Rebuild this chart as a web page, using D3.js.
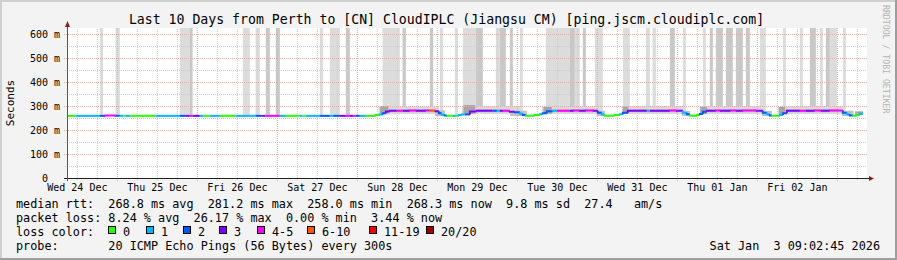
<!DOCTYPE html>
<html>
<head>
<meta charset="utf-8">
<script src="https://cdn.jsdelivr.net/npm/d3@7"></script>
<style>
  html, body { margin: 0; padding: 0; background: #f3f3f3; }
  svg { display: block; font-family: "DejaVu Sans Mono", monospace; }
  text { white-space: pre; }
</style>
</head>
<body>
<svg id="chart" width="897" height="260"></svg>
<script>
// graph window: last 10 days up to the render time
const windowStart = new Date(2025, 11, 24, 9, 2, 45);
const windowEnd = new Date(2026, 0, 3, 9, 2, 45);
const yMax = 625;

const yTicks = [0, 100, 200, 300, 400, 500, 600];
const yMinorTicks = [50, 150, 250, 350, 450, 550];

// median rtt, one step per entry: start time "DD HH:MM", ms, lost pings (of 20)
const medTimes = [
  "24 09:03","24 11:36","24 18:54","24 19:53","24 20:37","24 23:37","25 00:54","25 01:53","25 02:37","25 03:54",
  "25 11:37","25 18:54","25 20:42","25 21:54","25 22:43","26 00:54","26 01:53","26 03:54","26 06:54","26 11:37",
  "26 17:37","26 19:35","26 20:37","27 00:54","27 02:42","27 06:54","27 07:43","27 08:42","27 12:54","27 15:54",
  "27 16:53","27 18:54","27 20:42","27 21:54","27 22:53","27 23:42","28 00:54","28 02:42","28 05:42","28 06:54",
  "28 07:48","28 08:42","28 09:54","28 12:00","28 13:48","28 15:54","28 18:00","28 20:42","28 21:54","28 23:37",
  "29 00:36","29 01:30","29 02:24","29 03:00","29 04:48","29 05:42","29 06:36","29 07:30","29 08:24","29 09:54",
  "29 11:55","29 16:48","29 18:00","29 18:54","29 19:48","29 21:54","29 23:24","30 00:54","30 01:48","30 02:42",
  "30 05:24","30 06:54","30 07:48","30 09:00","30 10:48","30 12:00","30 15:54","30 17:06","30 18:54","30 20:42",
  "30 23:06","31 00:18","31 01:30","31 02:24","31 05:24","31 06:54","31 07:48","31 09:18","31 15:00","31 15:54",
  "31 21:54","01 00:00","01 01:48","01 03:00","01 03:54","01 06:00","01 06:54","01 07:48","01 09:00","01 11:42",
  "01 13:12","01 16:12","01 18:00","01 19:48","02 00:00","02 01:48","02 03:00","02 03:54","02 04:30","02 06:54",
  "02 07:48","02 09:00","02 12:54","02 14:42","02 17:24","02 19:30","02 21:54","03 01:48","03 03:00","03 03:54",
  "03 04:48","03 06:00","03 06:54"
];
const medLastTime = "03 07:48";
const medValues = [
  259,259,259,259,260,259,259,259,259,259,
  259,259,259,259,259,259,259,259,259,259,
  259,259,259,259,259,259,259,259,259,259,
  259,259,259,259,259,259,259,259,262,265,
  270,277,280,280,280,281,280,281,281,278,
  270,264,260,259,259,259,262,265,265,277,
  280,280,280,280,280,276,274,268,263,259,
  262,266,270,278,280,280,280,281,280,281,
  280,272,265,259,262,266,272,280,280,280,
  281,280,272,266,259,262,267,276,280,281,
  280,281,280,281,280,272,266,260,259,263,
  270,280,280,280,281,280,281,272,266,260,
  259,263,268
];
const medLoss = [
  0,1,2,3,4,2,1,0,1,0,
  1,2,3,4,3,1,0,1,0,1,
  2,3,4,1,0,1,0,1,2,1,
  2,3,4,3,4,2,1,0,0,1,
  2,3,3,4,3,4,3,4,7,3,
  2,1,2,0,1,0,1,1,2,3,
  3,2,1,3,4,3,2,1,2,0,
  0,1,2,2,1,4,3,4,3,4,
  3,2,1,0,0,1,2,3,1,3,
  4,3,1,2,0,0,2,2,3,4,
  3,4,3,4,3,2,1,2,0,1,
  2,3,4,3,4,3,4,2,1,2,
  0,0,1
];

// intervals where the slowest pings run off the top: [from, to, shade 1 light / 2 dark]
const spikes = [
  ["24 18:54","24 19:53",1],["24 23:37","25 00:54",1],["25 18:54","25 21:54",1],["25 21:54","25 22:43",2],
  ["26 13:48","26 15:54",1],["26 17:37","26 18:54",1],["26 20:42","26 21:54",2],["26 23:42","27 00:54",2],
  ["27 12:54","27 13:53",1],["27 15:54","27 18:54",1],["27 20:42","27 21:54",2],["28 07:43","28 12:54",1],
  ["28 13:43","28 14:42",2],["28 21:54","28 22:53",2],["29 00:54","29 01:53",1],["29 05:24","29 06:13",1],
  ["29 07:48","29 11:42",1],["29 11:42","29 13:48",2],["29 17:42","29 18:54",1],["29 18:54","29 20:42",2],
  ["29 21:54","29 22:48",2],["30 00:54","30 01:48",1],["30 08:42","30 15:54",1],["30 15:54","30 17:24",2],
  ["30 17:24","30 18:54",1],["30 19:48","30 20:42",2],["30 23:24","31 01:48",1],["31 07:48","31 09:54",1],
  ["31 14:42","31 15:54",1],["31 16:43","31 17:42",1],["31 21:54","31 23:24",2],["01 01:48","01 02:42",1],
  ["01 07:48","01 08:42",1],["01 09:54","01 10:48",2],["01 11:42","01 13:48",2],["01 14:42","01 16:48",2],
  ["01 17:42","01 19:48",2],["01 20:42","01 21:54",2],["02 00:54","02 02:42",1],["02 07:48","02 08:42",1],
  ["02 12:54","02 13:48",1],["02 15:54","02 17:42",2],["02 18:54","02 19:48",1],["02 20:42","02 21:54",2],
  ["02 21:54","03 00:00",1],["03 01:48","03 02:42",1]
];

// smoke around the median: [from, to, low ms, high ms, shade 1..3]
const smoke = [
  ["28 06:30","29 00:36",266,298,1],["29 07:30","30 01:00",266,300,1],["30 07:30","31 00:30",266,298,1],
  ["31 07:30","01 02:00",266,300,1],["01 06:54","02 02:00",266,300,1],["02 07:00","03 02:00",266,300,1],
  ["28 09:54","28 23:37",274,287,2],["29 11:55","29 21:54",274,287,2],["30 10:48","30 23:06",274,287,2],
  ["31 09:18","31 23:59",274,287,2],["01 09:00","01 23:59",274,287,2],["02 09:00","03 00:30",274,287,2],
  ["28 23:30","29 02:30",258,282,2],["29 22:00","30 03:00",258,280,2],["31 00:00","31 02:30",258,280,2],
  ["01 01:30","01 04:00",258,280,2],["02 01:30","02 04:30",258,280,2],["03 01:30","03 05:00",258,280,2],
  ["28 07:00","28 09:30",268,300,3],["29 08:00","29 11:30",268,304,3],["30 08:00","30 10:30",268,296,3],
  ["31 07:48","31 09:30",268,298,3],["01 07:00","01 09:00",266,296,3],["02 06:30","02 08:30",266,296,3],
  ["03 05:30","03 07:48",262,278,3]
];

const lossLabels = ["0", "1", "2", "3", "4-5", "6-10", "11-19", "20/20"];
const lossColors = ["#26ff00", "#00b8ff", "#0059ff", "#7e00ff", "#ff00ff", "#ff5500", "#ff0000", "#a10000"];
const lossBreaks = [1, 2, 3, 4, 6, 11, 20];

const titleText = "Last 10 Days from Perth to [CN] CloudIPLC (Jiangsu CM) [ping.jscm.cloudiplc.com]";
const statLines = [
  "median rtt:  268.8 ms avg  281.2 ms max  258.0 ms min  268.3 ms now  9.8 ms sd  27.4   am/s",
  "packet loss: 8.24 % avg  26.17 % max  0.00 % min  3.44 % now",
  "loss color:",
  "probe:       20 ICMP Echo Pings (56 Bytes) every 300s"
];
const stampText = "Sat Jan  3 09:02:45 2026";

function parseT(s) {
  const [d, hm] = s.split(" ");
  const [h, m] = hm.split(":").map(Number);
  const day = +d;
  return day >= 24 ? new Date(2025, 11, day, h, m) : new Date(2026, 0, day, h, m);
}

const W = 897, H = 260;
const plot = {left: 67, right: 867, top: 28, bottom: 178};

const svg = d3.select("#chart");

svg.append("rect").attr("width", W).attr("height", H).attr("fill", "#f3f3f3");
// rrdtool 3d frame
svg.append("path").attr("d", `M0,${H} V0 H${W}`).attr("fill", "none")
  .attr("stroke", "#cfcfcf").attr("stroke-width", 4);
svg.append("path").attr("d", `M0,${H} H${W} V0`).attr("fill", "none")
  .attr("stroke", "#9e9e9e").attr("stroke-width", 4);

svg.append("rect")
  .attr("x", plot.left).attr("y", plot.top)
  .attr("width", plot.right - plot.left).attr("height", plot.bottom - plot.top)
  .attr("fill", "#ffffff");

const x = d3.scaleTime().domain([windowStart, windowEnd]).range([plot.left, plot.right]);
const y = d3.scaleLinear().domain([0, yMax]).range([plot.bottom, plot.top]);
const lossColor = d3.scaleThreshold().domain(lossBreaks).range(lossColors);

const med = medTimes.map((t, i) => ({t: parseT(t), v: medValues[i], loss: medLoss[i]}));
med.forEach((d, i) => { d.t1 = i < med.length - 1 ? med[i + 1].t : parseT(medLastTime); });
const medAt = t => {
  const i = Math.max(0, d3.bisector(d => d.t).right(med, t) - 1);
  return med[i].v;
};

// spikes up to the top of the canvas
svg.append("g")
  .selectAll("rect")
  .data(spikes)
  .join("rect")
  .attr("x", d => x(parseT(d[0])))
  .attr("width", d => x(parseT(d[1])) - x(parseT(d[0])))
  .attr("y", y(yMax))
  .attr("height", d => y(medAt(parseT(d[0]))) - y(yMax))
  .attr("fill", d => d[2] === 2 ? "#c8c8c8" : "#dcdcdc");

const smokeShade = ["#ffffff", "#d9d9d9", "#c2c2c2", "#a6a6a6"];
svg.append("g")
  .selectAll("rect")
  .data(smoke)
  .join("rect")
  .attr("x", d => x(parseT(d[0])))
  .attr("width", d => x(parseT(d[1])) - x(parseT(d[0])))
  .attr("y", d => y(d[3]))
  .attr("height", d => y(d[2]) - y(d[3]))
  .attr("fill", d => smokeShade[d[4]]);

// grid
const minorCol = "#cdcdcd", majorCol = "#e8acac";
const hMinor = svg.append("g").attr("transform", `translate(${plot.left},0)`)
  .call(d3.axisLeft(y).tickValues(yMinorTicks).tickSize(-(plot.right - plot.left)).tickFormat(""));
const hMajor = svg.append("g").attr("transform", `translate(${plot.left},0)`)
  .call(d3.axisLeft(y).tickValues(yTicks.filter(v => v > 0)).tickSize(-(plot.right - plot.left)).tickFormat(""));
const sixHours = d3.timeHour.every(6).range(windowStart, windowEnd).filter(d => d.getHours() !== 0);
const vMinor = svg.append("g").attr("transform", `translate(0,${plot.bottom})`)
  .call(d3.axisBottom(x).tickValues(sixHours).tickSize(-(plot.bottom - plot.top)).tickFormat(""));
const vMajor = svg.append("g").attr("transform", `translate(0,${plot.bottom})`)
  .call(d3.axisBottom(x).tickValues(d3.timeDay.range(windowStart, windowEnd)).tickSize(-(plot.bottom - plot.top)).tickFormat(""));

[hMinor, hMajor, vMinor, vMajor].forEach(g => g.select(".domain").remove());
hMinor.selectAll("line").attr("x1", -2).attr("stroke", minorCol).attr("stroke-dasharray", "1,1");
hMajor.selectAll("line").attr("x1", -3).attr("stroke", majorCol).attr("stroke-dasharray", "1,1");
vMinor.selectAll("line").attr("y1", 2).attr("stroke", minorCol).attr("stroke-dasharray", "1,1");
vMajor.selectAll("line").attr("y1", 3).attr("stroke", majorCol).attr("stroke-dasharray", "1,1");

// median line, coloured by loss
const line = d3.line().x(p => x(p[0])).y(p => y(p[1]));
svg.append("g")
  .selectAll("path")
  .data(med)
  .join("path")
  .attr("d", (d, i) => line(i ? [[d.t, med[i - 1].v], [d.t, d.v], [d.t1, d.v]] : [[d.t, d.v], [d.t1, d.v]]))
  .attr("fill", "none")
  .attr("stroke", d => lossColor(d.loss))
  .attr("stroke-width", 2);

// axes
svg.append("line")
  .attr("x1", plot.left - 3).attr("x2", plot.right + 3)
  .attr("y1", plot.bottom + 0.5).attr("y2", plot.bottom + 0.5)
  .attr("stroke", "#222");
svg.append("line")
  .attr("x1", plot.left + 0.5).attr("x2", plot.left + 0.5)
  .attr("y1", plot.bottom + 3).attr("y2", plot.top - 2)
  .attr("stroke", "#555");
svg.append("path")
  .attr("d", `M${plot.right + 2},${plot.bottom - 2} L${plot.right + 7},${plot.bottom + 0.5} L${plot.right + 2},${plot.bottom + 3} Z`)
  .attr("fill", "#8e1c1c");
svg.append("path")
  .attr("d", `M${plot.left - 2},${plot.top - 1} L${plot.left + 0.5},${plot.top - 7} L${plot.left + 3},${plot.top - 1} Z`)
  .attr("fill", "#8e1c1c");

// tick labels
const yAxis = svg.append("g").attr("transform", `translate(${plot.left},0)`)
  .call(d3.axisLeft(y).tickValues(yTicks).tickSize(0).tickPadding(7)
    .tickFormat(v => v === 0 ? "0  " : `${v} m`));
const noons = d3.timeDay.range(d3.timeDay.floor(windowStart), windowEnd)
  .map(d => d3.timeHour.offset(d, 12)).filter(d => d <= windowEnd);
const xAxis = svg.append("g").attr("transform", `translate(0,${plot.bottom})`)
  .call(d3.axisBottom(x).tickValues(noons).tickSize(0).tickPadding(6)
    .tickFormat(d3.timeFormat("%a %d %b")));
[yAxis, xAxis].forEach(g => {
  g.select(".domain").remove();
  g.attr("font-family", "DejaVu Sans Mono, monospace").attr("font-size", 10);
  g.selectAll("text").attr("fill", "#000");
});

// title and labels
svg.append("text")
  .attr("x", 446.5).attr("y", 24)
  .attr("text-anchor", "middle")
  .attr("font-size", 13.2)
  .text(titleText);

svg.append("text")
  .attr("transform", `translate(14,${(plot.top + plot.bottom) / 2}) rotate(-90)`)
  .attr("text-anchor", "middle")
  .attr("font-size", 11)
  .text("Seconds");

svg.append("text")
  .attr("transform", "translate(883,5) rotate(90)")
  .attr("font-size", 8.2)
  .attr("fill", "#b4b4b4")
  .text("RRDTOOL / TOBI OETIKER");

// legend / statistics
svg.append("g")
  .selectAll("text")
  .data(statLines)
  .join("text")
  .attr("x", 16)
  .attr("y", (d, i) => 208 + i * 14)
  .attr("font-size", 11.8)
  .text(d => d);

const legendX = [108, 146, 183, 219, 257, 307, 369, 426];
const legend = svg.append("g")
  .selectAll("g")
  .data(lossLabels)
  .join("g")
  .attr("transform", (d, i) => `translate(${legendX[i]},226)`);
legend.append("rect")
  .attr("x", 0.5).attr("y", 0.5).attr("width", 7).attr("height", 7)
  .attr("fill", (d, i) => lossColors[i])
  .attr("stroke", "#000");
legend.append("text")
  .attr("x", 15).attr("y", 10)
  .attr("font-size", 11.8)
  .text(d => d);

svg.append("text")
  .attr("x", 880).attr("y", 250)
  .attr("text-anchor", "end")
  .attr("font-size", 11.8)
  .text(stampText);
</script>
</body>
</html>
